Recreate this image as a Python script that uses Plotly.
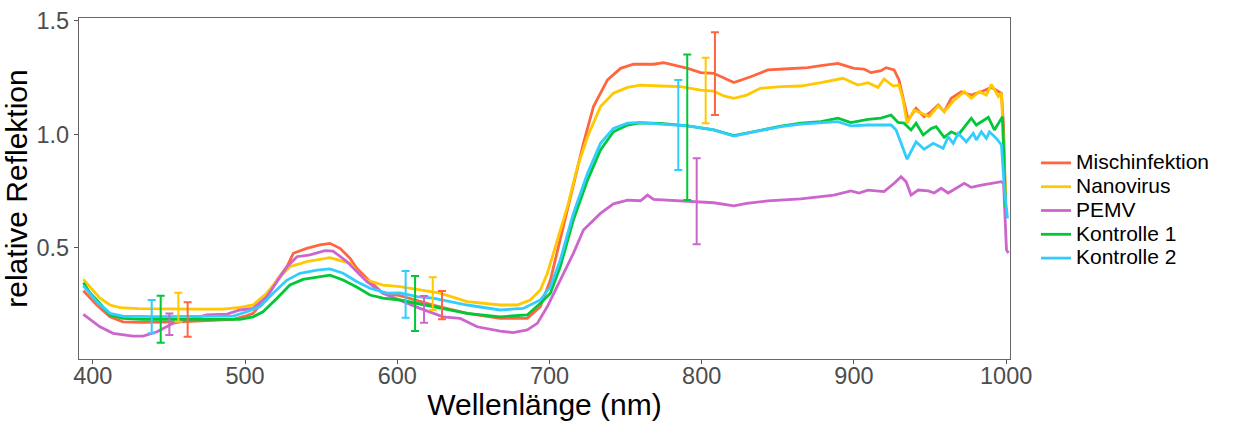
import plotly.graph_objects as go

# ---------------- data ----------------
series_names = ["Mischinfektion", "Nanovirus", "PEMV", "Kontrolle 1", "Kontrolle 2"]
series_colors = ["#FF6640", "#FFC800", "#CC66CC", "#00C838", "#33CCFF"]

wl_misch = [393.8, 402.6, 411.3, 419.8, 433.0, 448.8, 457.3, 475.0, 492.1, 501.3, 505.3, 514.4,
            521.0, 527.6, 531.7, 540.5, 549.2, 555.8, 562.4, 569.0, 573.4, 579.9, 590.6, 601.8,
            614.9, 623.5, 645.9, 667.6, 685.4, 694.0, 700.6, 707.1, 715.7, 722.3, 728.9, 738.1,
            746.7, 755.2, 768.4, 775.0, 790.8, 799.3, 807.9, 821.1, 832.2, 843.4, 853.9, 869.7,
            878.3, 889.5, 900.0, 906.6, 911.2, 917.8, 921.1, 926.4, 929.6, 932.3, 935.6, 940.8,
            946.1, 950.8, 955.4, 959.3, 963.9, 970.5, 977.1, 983.7, 990.3, 996.9, 998.3, 999.6]
r_misch = [0.310, 0.247, 0.195, 0.173, 0.171, 0.171, 0.173, 0.178, 0.184, 0.200, 0.210, 0.284,
           0.357, 0.416, 0.475, 0.497, 0.512, 0.519, 0.497, 0.453, 0.409, 0.365, 0.299, 0.288,
           0.262, 0.247, 0.210, 0.188, 0.188, 0.240, 0.357, 0.534, 0.769, 0.960, 1.122, 1.240,
           1.291, 1.309, 1.309, 1.316, 1.291, 1.272, 1.269, 1.228, 1.254, 1.284, 1.288, 1.294,
           1.303, 1.313, 1.291, 1.288, 1.272, 1.281, 1.294, 1.284, 1.240, 1.166, 1.063, 1.115,
           1.078, 1.100, 1.129, 1.100, 1.159, 1.188, 1.173, 1.188, 1.207, 1.181, 1.034, 0.696]

wl_nano = [393.8, 398.2, 404.7, 411.3, 417.9, 430.0, 450.0, 470.0, 485.5, 496.7, 505.3, 514.4,
           523.0, 529.5, 540.5, 555.8, 569.0, 575.6, 579.9, 590.6, 601.8, 628.1, 645.9, 667.6,
           678.8, 687.4, 694.0, 698.6, 705.2, 711.8, 718.4, 725.0, 733.5, 742.0, 751.3, 759.8,
           773.0, 786.1, 799.3, 807.9, 814.5, 821.1, 829.6, 838.4, 852.0, 865.1, 878.3, 892.8,
           902.6, 909.2, 915.8, 919.8, 925.7, 929.6, 932.3, 934.9, 939.5, 944.2, 949.4, 955.4,
           959.3, 965.9, 972.5, 977.1, 982.4, 987.0, 990.3, 994.9, 996.9, 999.6]
r_nano = [0.360, 0.328, 0.277, 0.247, 0.235, 0.231, 0.229, 0.229, 0.229, 0.237, 0.247, 0.300,
          0.372, 0.416, 0.438, 0.456, 0.431, 0.379, 0.357, 0.335, 0.328, 0.299, 0.262, 0.247,
          0.247, 0.269, 0.313, 0.387, 0.534, 0.681, 0.857, 0.989, 1.122, 1.181, 1.207, 1.217,
          1.213, 1.210, 1.195, 1.190, 1.169, 1.159, 1.173, 1.203, 1.210, 1.213, 1.228, 1.247,
          1.217, 1.228, 1.207, 1.244, 1.213, 1.217, 1.151, 1.049, 1.107, 1.093, 1.078, 1.125,
          1.100, 1.151, 1.188, 1.159, 1.188, 1.173, 1.220, 1.166, 1.181, 0.740]

wl_pemv = [393.8, 404.7, 413.3, 426.4, 433.0, 442.2, 452.7, 461.9, 475.0, 488.2, 496.7, 505.3,
           514.4, 521.0, 527.6, 534.1, 542.7, 552.5, 557.8, 567.0, 573.6, 580.1, 590.6, 601.8,
           614.9, 630.1, 641.3, 652.5, 667.6, 676.1, 685.4, 692.0, 698.6, 707.1, 715.7, 722.3,
           733.5, 742.0, 751.3, 759.8, 764.4, 768.4, 786.1, 807.9, 821.1, 829.6, 843.4, 865.1,
           878.3, 886.8, 898.0, 903.3, 909.2, 919.8, 926.4, 931.0, 934.3, 937.5, 942.2, 948.8,
           952.7, 957.3, 961.9, 972.5, 977.1, 983.7, 996.9, 998.3, 1000.2, 1001.5]
r_pemv = [0.206, 0.151, 0.122, 0.110, 0.110, 0.129, 0.166, 0.181, 0.203, 0.207, 0.225, 0.232,
          0.284, 0.350, 0.416, 0.460, 0.468, 0.487, 0.485, 0.438, 0.394, 0.350, 0.299, 0.269,
          0.232, 0.195, 0.188, 0.151, 0.132, 0.125, 0.137, 0.166, 0.240, 0.357, 0.475, 0.578,
          0.651, 0.693, 0.710, 0.707, 0.732, 0.713, 0.705, 0.698, 0.684, 0.695, 0.706, 0.715,
          0.725, 0.732, 0.750, 0.741, 0.754, 0.747, 0.784, 0.813, 0.791, 0.732, 0.754, 0.750,
          0.741, 0.762, 0.741, 0.784, 0.766, 0.776, 0.791, 0.784, 0.490, 0.476]

wl_k1 = [393.8, 398.2, 402.6, 411.3, 419.8, 433.0, 460.0, 480.0, 496.7, 505.3, 511.8, 521.0,
         529.5, 538.1, 549.2, 555.8, 564.4, 573.6, 582.1, 590.6, 601.8, 623.5, 645.9, 667.6,
         685.4, 694.0, 700.6, 707.1, 715.7, 725.0, 733.5, 742.0, 751.3, 759.8, 773.0, 790.8,
         807.9, 821.1, 834.2, 852.0, 865.1, 878.3, 889.5, 898.0, 909.2, 917.8, 924.4, 929.0,
         932.9, 937.5, 940.8, 945.5, 950.8, 954.0, 959.3, 963.9, 968.5, 977.1, 980.4, 988.3,
         992.3, 996.9, 997.6, 999.6]
r_k1 = [0.345, 0.300, 0.269, 0.203, 0.188, 0.184, 0.184, 0.184, 0.184, 0.195, 0.217, 0.277,
        0.335, 0.360, 0.372, 0.379, 0.357, 0.325, 0.291, 0.277, 0.269, 0.240, 0.210, 0.195,
        0.203, 0.255, 0.299, 0.416, 0.622, 0.798, 0.931, 1.011, 1.041, 1.050, 1.048, 1.037,
        1.019, 0.994, 1.013, 1.036, 1.049, 1.056, 1.071, 1.052, 1.066, 1.071, 1.085, 1.052,
        1.049, 1.019, 1.049, 0.997, 1.026, 1.034, 0.987, 1.011, 0.997, 1.071, 1.041, 1.075,
        1.019, 1.071, 1.078, 0.681]

wl_k2 = [393.8, 402.6, 411.3, 419.8, 440.0, 470.0, 492.1, 501.3, 509.9, 518.4, 527.6, 536.1,
         547.3, 555.8, 564.4, 573.6, 582.1, 593.3, 601.8, 613.0, 623.5, 645.9, 667.6, 682.7,
         694.0, 700.6, 707.1, 715.7, 725.0, 733.5, 742.0, 751.3, 759.8, 773.0, 790.8, 807.9,
         821.1, 834.2, 852.0, 865.1, 878.3, 889.5, 898.0, 909.2, 924.4, 927.7, 931.0, 934.9,
         940.8, 946.1, 952.1, 958.6, 961.9, 965.2, 968.5, 973.8, 978.4, 980.4, 983.7, 987.0,
         989.0, 993.6, 996.9, 998.9, 1000.9]
r_k2 = [0.331, 0.262, 0.210, 0.198, 0.196, 0.196, 0.198, 0.217, 0.240, 0.299, 0.357, 0.387,
        0.401, 0.406, 0.387, 0.350, 0.321, 0.299, 0.300, 0.284, 0.277, 0.247, 0.225, 0.232,
        0.269, 0.328, 0.446, 0.651, 0.828, 0.960, 1.026, 1.049, 1.052, 1.045, 1.037, 1.019,
        0.992, 1.011, 1.034, 1.045, 1.052, 1.056, 1.037, 1.041, 1.041, 1.019, 0.960, 0.890,
        0.967, 0.934, 0.960, 0.938, 0.989, 0.960, 1.004, 0.967, 1.004, 0.975, 1.011, 0.982,
        1.011, 0.982, 0.953, 0.754, 0.629]

# error bars (mean +/- sd) at three wavelengths per group
err_x_misch = [462.3, 629.4, 808.7]
err_y_misch = [0.183, 0.2465, 1.2675]
err_sd_misch = [0.076, 0.0625, 0.1825]

err_x_nano = [456.2, 623.3, 802.6]
err_y_nano = [0.237, 0.297, 1.1935]
err_sd_nano = [0.064, 0.072, 0.1445]

err_x_pemv = [450.3, 617.6, 796.7]
err_y_pemv = [0.1625, 0.228, 0.7045]
err_sd_pemv = [0.0475, 0.059, 0.1895]

err_x_k1 = [444.6, 611.7, 790.5]
err_y_k1 = [0.1845, 0.2535, 1.031]
err_sd_k1 = [0.1035, 0.1215, 0.321]

err_x_k2 = [438.7, 605.5, 784.6]
err_y_k2 = [0.1955, 0.294, 1.0415]
err_sd_k2 = [0.0735, 0.103, 0.1985]

x_ticks = [400, 500, 600, 700, 800, 900, 1000]
y_ticks = [0.5, 1.0, 1.5]
y_tick_labels = ["0.5", "1.0", "1.5"]

# ---------------- figure ----------------
FONT = "Liberation Sans, Arial, sans-serif"

lines = [(wl_misch, r_misch), (wl_nano, r_nano), (wl_pemv, r_pemv), (wl_k1, r_k1), (wl_k2, r_k2)]
errs = [(err_x_misch, err_y_misch, err_sd_misch), (err_x_nano, err_y_nano, err_sd_nano),
        (err_x_pemv, err_y_pemv, err_sd_pemv), (err_x_k1, err_y_k1, err_sd_k1),
        (err_x_k2, err_y_k2, err_sd_k2)]

fig = go.Figure()
for name, col, (wx, wy) in zip(series_names, series_colors, lines):
    fig.add_trace(go.Scatter(
        x=wx, y=wy, mode="lines", name='<span style="font-size:21px">' + name + '</span>',
        line=dict(color=col, width=2.8), showlegend=True))
for name, col, (ex, ey, es) in zip(series_names, series_colors, errs):
    fig.add_trace(go.Scatter(
        x=ex, y=ey, mode="markers", marker=dict(size=1, color="rgba(0,0,0,0)"),
        error_y=dict(type="data", array=es, visible=True, color=col, thickness=2, width=4),
        showlegend=False, name=name))

fig.update_layout(
    width=1240, height=421,
    margin=dict(l=79, r=230, t=18, b=62),
    paper_bgcolor="white", plot_bgcolor="white",
    font=dict(family=FONT, color="black"),
    legend=dict(x=1.0279, xanchor="left", y=0.4355, yanchor="middle",
                font=dict(size=16, color="black", family=FONT),
                bgcolor="rgba(0,0,0,0)", borderwidth=0, tracegroupgap=0),
)
fig.update_xaxes(
    range=[390.93, 1002.52], tickvals=x_ticks, automargin=False,
    showline=True, mirror=True, linecolor="#666666", linewidth=1.2,
    ticks="outside", ticklen=4, tickwidth=1.2, tickcolor="#555555",
    showgrid=False, zeroline=False, ticklabelstandoff=-8,
    tickfont=dict(size=23.5, color="#4D4D4D", family=FONT),
    title=dict(text="Wellenlänge (nm)", font=dict(size=30, color="black", family=FONT), standoff=6),
)
fig.update_yaxes(
    range=[0.0088, 1.513], tickvals=y_ticks, ticktext=y_tick_labels, automargin=False,
    showline=True, mirror=True, linecolor="#666666", linewidth=1.2,
    ticks="outside", ticklen=4, tickwidth=1.2, tickcolor="#555555",
    showgrid=False, zeroline=False,
    tickfont=dict(size=23.5, color="#4D4D4D", family=FONT),
    title=dict(text="relative Reflektion", font=dict(size=30, color="black", family=FONT), standoff=3),
)

fig.write_html("out.html")
